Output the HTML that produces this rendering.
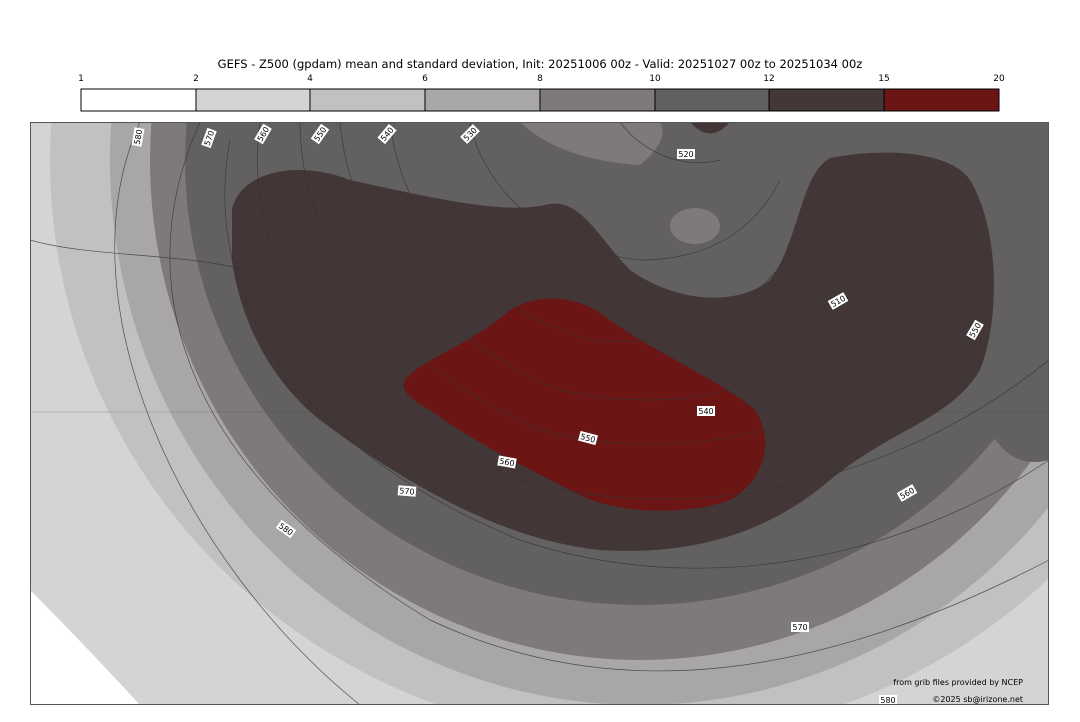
<!DOCTYPE html>
<html><head><style>
body{margin:0;background:#fff;width:1080px;height:718px;overflow:hidden;font-family:"DejaVu Sans","Liberation Sans",sans-serif;}
</style></head><body>
<svg width="1080" height="718" xmlns="http://www.w3.org/2000/svg" font-family="DejaVu Sans, Liberation Sans, sans-serif">
<rect width="1080" height="718" fill="#fff"/>
<text x="540" y="68" font-size="11.5" text-anchor="middle" fill="#000">GEFS - Z500 (gpdam) mean and standard deviation, Init: 20251006 00z - Valid: 20251027 00z to 20251034 00z</text>
<g font-size="9" text-anchor="middle" fill="#000">
<text x="81" y="81">1</text><text x="196" y="81">2</text><text x="310" y="81">4</text><text x="425" y="81">6</text><text x="540" y="81">8</text><text x="655" y="81">10</text><text x="769" y="81">12</text><text x="884" y="81">15</text><text x="999" y="81">20</text>
</g>
<g stroke="#000" stroke-width="1">
<rect x="81" y="89" width="115" height="22" fill="#fff"/>
<rect x="196" y="89" width="114" height="22" fill="#d4d4d4"/>
<rect x="310" y="89" width="115" height="22" fill="#c2c0c0"/>
<rect x="425" y="89" width="115" height="22" fill="#a8a6a6"/>
<rect x="540" y="89" width="115" height="22" fill="#7f7a7a"/>
<rect x="655" y="89" width="114" height="22" fill="#626060"/>
<rect x="769" y="89" width="115" height="22" fill="#433637"/>
<rect x="884" y="89" width="115" height="22" fill="#6b1515"/>
</g>
<defs><clipPath id="m"><rect x="30" y="122" width="1019" height="583"/></clipPath></defs>
<g clip-path="url(#m)">
<rect x="30" y="122" width="1019" height="583" fill="#d4d4d4"/>
<path d="M30,590 Q80,640 140,705 L30,705Z" fill="#fff"/>
<ellipse cx="640" cy="160" rx="590" ry="580" fill="#c2c0c0"/>
<path d="M1000,705 Q1030,650 1049,610 L1049,705Z" fill="#d4d4d4"/>
<ellipse cx="640" cy="160" rx="530" ry="545" fill="#a8a6a6"/>
<ellipse cx="640" cy="160" rx="490" ry="500" fill="#7f7a7a"/>
<ellipse cx="640" cy="160" rx="455" ry="445" fill="#626060"/>
<path d="M1049,300 L1049,460 Q1010,470 990,430 Z" fill="#626060"/>
<path d="M520,122 Q560,160 640,165 Q670,140 660,122Z" fill="#7f7a7a"/>
<ellipse cx="695" cy="226" rx="25" ry="18" fill="#7f7a7a"/>
<path d="M690,122 Q710,145 730,122Z" fill="#433637"/>
<path d="M232,210 C240,170 300,160 350,180 C420,195 500,215 545,205 C580,195 600,240 630,270 C680,305 740,305 770,280 C800,240 800,175 830,158 C880,148 950,150 970,180 C1000,230 1000,320 980,370 C950,420 890,430 830,480 C760,540 680,555 600,550 C500,540 400,480 320,420 C270,380 240,320 232,260Z" fill="#433637"/>
<path d="M405,380 C420,360 470,345 510,310 C540,292 580,295 610,320 C650,350 720,380 755,410 C775,440 765,480 730,500 C690,515 620,515 580,495 C530,470 470,440 430,410 C410,400 400,390 405,380Z" fill="#6b1515"/>
<g fill="none" stroke="#333" stroke-width="0.7" opacity="0.8">
<path d="M140,122 C60,300 180,560 360,705"/>
<path d="M200,122 C120,300 200,480 430,620 C600,700 800,690 1049,560"/>
<path d="M230,140 C200,300 300,450 520,540 C700,600 900,560 1049,460"/>
<path d="M260,122 C240,260 330,400 520,480 C700,530 900,480 1049,360"/>
<path d="M300,122 C300,240 380,360 540,430 C700,470 850,420 950,330"/>
<path d="M340,122 C350,230 420,330 560,390 C700,420 800,380 860,300"/>
<path d="M390,122 C400,210 460,300 590,340 C700,350 760,300 800,240"/>
<path d="M470,122 C480,180 540,250 640,260 C720,260 760,220 780,180"/>
<path d="M620,122 C640,150 680,170 720,160"/>
<path d="M30,240 C100,260 200,250 280,280"/>
<path d="M30,412 L1049,412" opacity="0.3"/>
</g>
<g font-size="8" fill="#000" text-anchor="middle">
<g transform="translate(138,137) rotate(-80)"><rect x="-9" y="-5" width="18" height="10" fill="#fff"/><text y="3">580</text></g>
<g transform="translate(209,138) rotate(-70)"><rect x="-9" y="-5" width="18" height="10" fill="#fff"/><text y="3">570</text></g>
<g transform="translate(263,134) rotate(-60)"><rect x="-9" y="-5" width="18" height="10" fill="#fff"/><text y="3">560</text></g>
<g transform="translate(320,134) rotate(-55)"><rect x="-9" y="-5" width="18" height="10" fill="#fff"/><text y="3">550</text></g>
<g transform="translate(387,134) rotate(-50)"><rect x="-9" y="-5" width="18" height="10" fill="#fff"/><text y="3">540</text></g>
<g transform="translate(470,134) rotate(-45)"><rect x="-9" y="-5" width="18" height="10" fill="#fff"/><text y="3">530</text></g>
<g transform="translate(686,154)"><rect x="-9" y="-5" width="18" height="10" fill="#fff"/><text y="3">520</text></g>
<g transform="translate(838,301) rotate(-30)"><rect x="-9" y="-5" width="18" height="10" fill="#fff"/><text y="3">510</text></g>
<g transform="translate(975,330) rotate(-60)"><rect x="-9" y="-5" width="18" height="10" fill="#fff"/><text y="3">550</text></g>
<g transform="translate(706,411)"><rect x="-9" y="-5" width="18" height="10" fill="#fff"/><text y="3">540</text></g>
<g transform="translate(588,438) rotate(15)"><rect x="-9" y="-5" width="18" height="10" fill="#fff"/><text y="3">550</text></g>
<g transform="translate(507,462) rotate(10)"><rect x="-9" y="-5" width="18" height="10" fill="#fff"/><text y="3">560</text></g>
<g transform="translate(407,491) rotate(5)"><rect x="-9" y="-5" width="18" height="10" fill="#fff"/><text y="3">570</text></g>
<g transform="translate(286,529) rotate(35)"><rect x="-9" y="-5" width="18" height="10" fill="#fff"/><text y="3">580</text></g>
<g transform="translate(907,493) rotate(-30)"><rect x="-9" y="-5" width="18" height="10" fill="#fff"/><text y="3">560</text></g>
<g transform="translate(800,627)"><rect x="-9" y="-5" width="18" height="10" fill="#fff"/><text y="3">570</text></g>
<g transform="translate(888,700)"><rect x="-9" y="-5" width="18" height="10" fill="#fff"/><text y="3">580</text></g>
</g>
<text x="1023" y="685" font-size="8" text-anchor="end" fill="#000">from grib files provided by NCEP</text>
<text x="1023" y="702" font-size="8" text-anchor="end" fill="#000">©2025 sb@irizone.net</text>
</g>
<rect x="30.5" y="122.5" width="1018" height="582" fill="none" stroke="#555" stroke-width="1"/>
</svg>
</body></html>
